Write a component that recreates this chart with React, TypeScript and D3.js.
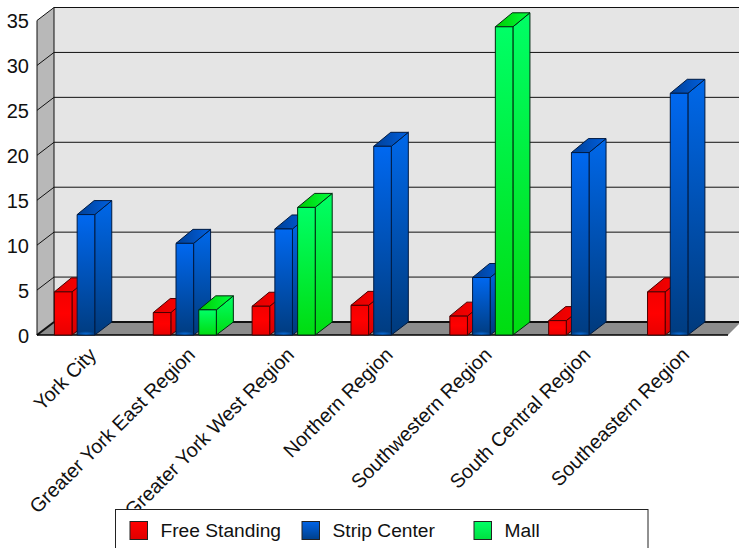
import React from "react";
import * as d3 from "d3";

const categories = ["York City", "Greater York East Region", "Greater York West Region", "Northern Region", "Southwestern Region", "South Central Region", "Southeastern Region"];
const freeStanding = [4.8, 2.5, 3.2, 3.3, 2.1, 1.6, 4.8];
const stripCenter = [13.4, 10.2, 11.8, 21, 6.4, 20.3, 26.9];
const mall = [0, 2.8, 14.2, 0, 34.3, 0, 0];
const ticks = [0, 5, 10, 15, 20, 25, 30, 35];
const seriesNames = ["Free Standing", "Strip Center", "Mall"];
const seriesValues = [freeStanding, stripCenter, mall];

const W = 739, H = 548;
const left = 37, right = 729, bottom = 335, top = 20.5;
const dx = 17, dy = 13, barTopDy = 14;
const barW = 17.6;

const x = d3.scaleBand<string>().domain(categories).range([left, right]);
const y = d3.scaleLinear().domain([0, 35]).range([bottom, top]);
const groupOffsets = d3.scalePoint<number>().domain([0, 1, 2]).range([17.4, 62.9]);

const ids = ["red", "blue", "green"];
const frontStops = [
  [["0", "#f40000"], ["0.5", "#ff0000"], ["1", "#e80000"]],
  [["0", "#0068f0"], ["1", "#003c80"]],
  [["0", "#00ff66"], ["1", "#00dc10"]],
];
const sideStops = [
  [["0", "#ff0000"], ["1", "#d80000"]],
  [["0", "#0068ea"], ["1", "#003a7c"]],
  [["0", "#00ff66"], ["1", "#00dc10"]],
];
const topStops = [
  [["0", "#e00000"], ["1", "#ff0000"]],
  [["0", "#003f95"], ["1", "#0060e0"]],
  [["0", "#00cc00"], ["1", "#00ff40"]],
];
const swatchStops = [
  [["0", "#ff0000"], ["1", "#e00000"]],
  [["0", "#0064e8"], ["1", "#00408a"]],
  [["0", "#00ff66"], ["1", "#00e040"]],
];
const edge = ["#4a0000", "#001a40", "#002a10"];

const pts = (p: number[][]) => p.map((a) => a.join(",")).join(" ");

function Grads() {
  const make = (prefix: string, set: string[][][], hor = false) =>
    set.map((stops, i) => (
      <linearGradient key={prefix + i} id={prefix + ids[i]} x1="0" y1="0" x2={hor ? "1" : "0"} y2={hor ? "0" : "1"}>
        {stops.map(([o, c]) => <stop key={o} offset={o} stopColor={c} />)}
      </linearGradient>
    ));
  return (
    <defs>
      {make("f", frontStops)}
      {make("s", sideStops)}
      {make("t", topStops, true)}
      {make("l", swatchStops)}
      <radialGradient id="glow" cx="0.5" cy="1" r="0.6">
        <stop offset="0" stopColor="#0a78f0" stopOpacity="0.9" />
        <stop offset="1" stopColor="#0a78f0" stopOpacity="0" />
      </radialGradient>
    </defs>
  );
}

export default function App() {
  const font = "'Liberation Sans', Arial, sans-serif";
  return (
    <svg width={W} height={H} style={{ position: "absolute", left: 0, top: 0 }} fontFamily={font}>
      <Grads />
      <rect x={left + dx} y={top - dy} width={W - left - dx} height={bottom - top} fill="#e5e5e5" />
      <polygon points={pts([[left, bottom], [left + dx, bottom - dy], [left + dx, top - dy], [left, top]])} fill="#b8b8b8" />
      <polygon points={pts([[left, bottom], [left + dx, bottom - dy], [W, bottom - dy], [W, bottom - dy + 2], [right - 1, bottom]])} fill="#8c8c8c" />
      {ticks.map((t) => (
        <g key={t} stroke="#111" strokeWidth={t === 0 ? 2 : 1}>
          <line x1={left} y1={y(t)} x2={left + dx} y2={y(t) - dy} />
          <line x1={left + dx} y1={y(t) - dy} x2={W} y2={y(t) - dy} />
        </g>
      ))}
      <line x1={left + dx} y1={top - dy} x2={left + dx} y2={bottom - dy} stroke="#111" />
      <line x1={left} y1={top} x2={left} y2={bottom} stroke="#111" />
      <line x1={left} y1={bottom} x2={right - 1} y2={bottom} stroke="#000" strokeWidth={1.5} />
      {ticks.map((t) => (
        <text key={t} x={29} y={y(t) + 7.5} textAnchor="end" fontSize={20} fill="#111">{t}</text>
      ))}
      {seriesValues.map((vals, s) =>
        vals.map((v, c) => {
          if (!v) return null;
          const x0 = (x(categories[c]) as number) + (groupOffsets(s) as number);
          const x1 = x0 + barW;
          const yv = y(v);
          return (
            <g key={s + "-" + c} stroke={edge[s]} strokeWidth={1} strokeLinejoin="round">
              <polygon points={pts([[x1, bottom], [x1 + dx, bottom - dy], [x1 + dx, yv - barTopDy], [x1, yv]])} fill={`url(#s${ids[s]})`} />
              <polygon points={pts([[x0, yv], [x0 + dx, yv - barTopDy], [x1 + dx, yv - barTopDy], [x1, yv]])} fill={`url(#t${ids[s]})`} />
              <rect x={x0} y={yv} width={barW} height={bottom - yv} fill={`url(#f${ids[s]})`} />
              {s === 1 && <rect x={x0 + 0.5} y={bottom - 6} width={barW - 1} height={5.5} fill="url(#glow)" stroke="none" />}
            </g>
          );
        })
      )}
      {categories.map((c) => {
        const cx = (x(c) as number) + 60.5;
        return (
          <text key={c} transform={`translate(${cx},356) rotate(-45)`} textAnchor="end" fontSize={19.8} fill="#111">{c}</text>
        );
      })}
      <rect x={115.5} y={509.5} width={532.5} height={60} fill="#fff" stroke="#222" />
      {seriesNames.map((n, i) => {
        const sx = [130, 302, 474][i];
        return (
          <g key={n}>
            <rect x={sx} y={521.5} width={17.5} height={18} fill={`url(#l${ids[i]})`} stroke="#222" />
            <text x={sx + 30.5} y={537} fontSize={19.2} fill="#111">{n}</text>
          </g>
        );
      })}
    </svg>
  );
}
